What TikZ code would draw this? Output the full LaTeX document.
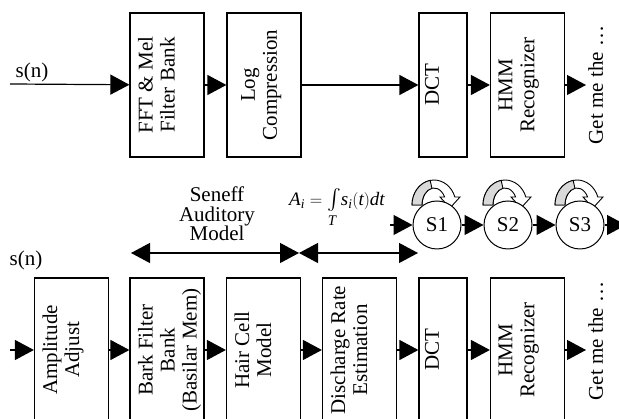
\documentclass[tikz,border=0pt]{standalone}
\usepackage{exscale}
\usepackage{fontspec}
\setmainfont{Liberation Serif}
\usetikzlibrary{arrows.meta}
\tikzstyle{block}=[draw,line width=1.2pt,rotate=90,minimum width=144pt,inner xsep=0pt,inner ysep=8pt,font=\fontsize{21}{22}\selectfont]
\tikzstyle{edge}=[draw,line width=1.2pt,-{Triangle[length=19pt,width=20pt]}]
\tikzstyle{span}=[draw,line width=1.2pt,{Triangle[length=19pt,width=20pt]}-{Triangle[length=19pt,width=20pt]}]
\tikzstyle{state}=[circle,draw,line width=1pt,fill=white,minimum size=48pt,inner sep=0pt,font=\fontsize{21}{22}\selectfont]
\tikzstyle{lbl}=[inner sep=2pt,font=\fontsize{21}{22}\selectfont]
\newcommand{\blktxt}[2]{\parbox[c][#1][t]{136pt}{\centering #2}}

\begin{document}
\begin{tikzpicture}[x=1pt,y=1pt]

            % MFCC front end
            \node[block] (fft) at (167,334) {\blktxt{58pt}{FFT \& Mel\\Filter Bank}};
            \node[block] (log) at (264,334) {\blktxt{58pt}{\vspace*{6pt}Log\\Compression}};
            \node[block,inner ysep=6pt] (dct1) at (443,334) {\blktxt{36pt}{DCT}};
            \node[block] (hmm1) at (527.5,334) {\blktxt{58pt}{HMM\\Recognizer}};
            \node[lbl,rotate=90,anchor=north] (out1) at (586,334) {Get me the \ldots};
            \node[lbl] (sn1) at (32,347) {s(n)};
            \coordinate (in1) at (10,335);

            \path[edge] (in1) -- (fft);
            \path[edge] (fft) -- (log);
            \path[edge] (log) -- (dct1);
            \path[edge] (dct1) -- (hmm1);
            \path[edge] (hmm1) -- (out1.north);

            % auditory front end
            \node[block] (amp) at (71.5,69) {\blktxt{58pt}{Amplitude\\Adjust}};
            \node[block] (bark) at (167,69) {\blktxt{58pt}{Bark Filter\\Bank\\(Basilar Mem)}};
            \node[block] (hair) at (263.5,69) {\blktxt{58pt}{Hair Cell\\Model}};
            \node[block] (disc) at (359.5,69) {\blktxt{58pt}{Discharge Rate\\Estimation}};
            \node[block,inner ysep=6pt] (dct2) at (443,69) {\blktxt{36pt}{DCT}};
            \node[block] (hmm2) at (527.5,69) {\blktxt{58pt}{HMM\\Recognizer}};
            \node[lbl,rotate=90,anchor=north] (out2) at (586,78) {Get me the \ldots};
            \node[lbl] (sn2) at (26,159) {s(n)};
            \coordinate (in2) at (10,69);

            \path[edge] (in2) -- (amp);
            \path[edge] (amp) -- (bark);
            \path[edge] (bark) -- (hair);
            \path[edge] (hair) -- (disc);
            \path[edge] (disc) -- (dct2);
            \path[edge] (dct2) -- (hmm2);
            \path[edge] (hmm2) -- (hmm2 -| out2.north);

            % model extents
            \node[lbl,align=center,font=\fontsize{21}{19.5}\selectfont] (sen) at (217,205) {Seneff\\Auditory\\Model};
            \node[lbl,font=\fontsize{19}{20}\selectfont] (frm) at (337,211) {$\mathit{A}_{\mathit{i}}=\mbox{\fontsize{21}{22}\selectfont$\int\limits_{\mathit{T}}$}\mathit{s}_{\mathit{i}}(\mathit{t})\mathit{dt}$};
            \coordinate (sp1) at (131,166);
            \coordinate (sp2) at (299,166);
            \coordinate (sp3) at (418,166);

            \path[span] (sp1) -- (sp2);
            \path[span] (sp2) -- (sp3);

            % HMM states
            \foreach \c in {437,508,580} {
                \filldraw[fill=white,line width=0.9pt] (\c-25,214) arc[start angle=180,end angle=18.7,x radius=22pt,y radius=25pt]
                    -- (\c+23,222) -- (\c+13,211) -- (\c+3,222) -- (\c+7.6,222)
                    arc[start angle=28,end angle=180,x radius=12pt,y radius=17pt] -- cycle;
                \filldraw[fill=gray!30,line width=0.9pt] (\c-25,214) arc[start angle=180,end angle=100,x radius=22pt,y radius=25pt]
                    -- (\c-5.1,230.7) arc[start angle=100,end angle=180,x radius=12pt,y radius=17pt] -- cycle;
            }
            \node[state] (st1) at (437,194) {S1};
            \node[state] (st2) at (508,194) {S2};
            \node[state] (st3) at (580,194) {S3};
            \coordinate (hin) at (390,194);
            \coordinate (hout) at (626,194);

            \path[edge] (hin) -- (st1);
            \path[edge] (st1) -- (st2);
            \path[edge] (st2) -- (st3);
            \path[edge] (st3) -- (hout);

            \pgfresetboundingbox
            \path [use as bounding box] (0,0) rectangle (619,419);
        \end{tikzpicture}
\end{document}
